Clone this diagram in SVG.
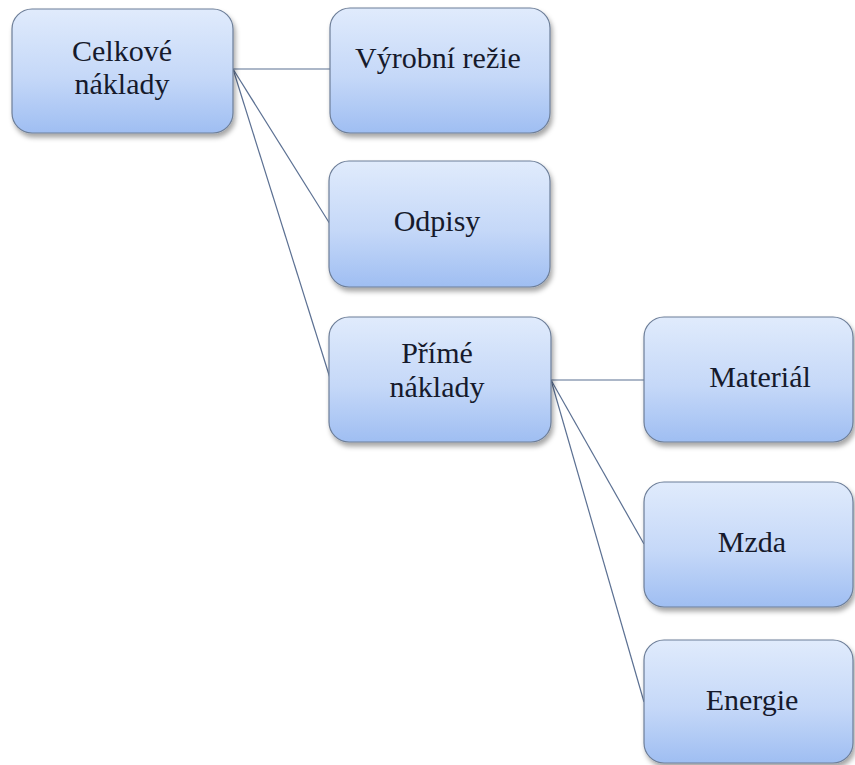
<svg xmlns="http://www.w3.org/2000/svg" width="855" height="765" viewBox="0 0 855 765">
<defs>
<linearGradient id="g" x1="0" y1="0" x2="0" y2="1">
<stop offset="0" stop-color="#e0ebfc"/>
<stop offset="0.55" stop-color="#c5d8f8"/>
<stop offset="1" stop-color="#9fbef2"/>
</linearGradient>
<filter id="sh" x="-10%" y="-10%" width="125%" height="130%">
<feDropShadow dx="2" dy="4" stdDeviation="2.5" flood-color="#000" flood-opacity="0.35"/>
</filter>
</defs>
<style>
.box{fill:url(#g);stroke:#6d7e98;stroke-width:1.2;filter:url(#sh)}
.t{font-size:30px;fill:#161a2c;text-anchor:middle}
.c{stroke:#5b7092;stroke-width:1.2;fill:none}
</style>
<rect width="855" height="765" fill="#ffffff"/>
<g id="connectors">
<line class="c" x1="233" y1="69" x2="330" y2="69"/>
<line class="c" x1="233" y1="69" x2="330" y2="224"/>
<line class="c" x1="233" y1="69" x2="330" y2="378"/>
<line class="c" x1="551" y1="380" x2="644" y2="380"/>
<line class="c" x1="551" y1="380" x2="644" y2="544"/>
<line class="c" x1="551" y1="380" x2="644" y2="702"/>
</g>
<g font-family="Liberation Serif, DejaVu Serif, serif">
<g id="celkove">
<rect class="box" x="12" y="9" width="221" height="124" rx="20"/>
<text class="t" x="122" y="61">Celkové</text>
<text class="t" x="122" y="94">náklady</text>
</g>
<g id="vyrobni">
<rect class="box" x="330" y="8" width="220" height="125" rx="20"/>
<text class="t" x="438" y="68">Výrobní režie</text>
</g>
<g id="odpisy">
<rect class="box" x="329" y="161" width="221" height="126" rx="20"/>
<text class="t" x="437" y="231">Odpisy</text>
</g>
<g id="prime">
<rect class="box" x="329" y="317" width="222" height="125" rx="20"/>
<text class="t" x="437" y="363">Přímé</text>
<text class="t" x="437" y="397">náklady</text>
</g>
<g id="material">
<rect class="box" x="644" y="317" width="209" height="125" rx="20"/>
<text class="t" x="760" y="387">Materiál</text>
</g>
<g id="mzda">
<rect class="box" x="644" y="482" width="209" height="125" rx="20"/>
<text class="t" x="752" y="552">Mzda</text>
</g>
<g id="energie">
<rect class="box" x="644" y="640" width="209" height="123" rx="20"/>
<text class="t" x="752" y="710">Energie</text>
</g>
</g>
</svg>
